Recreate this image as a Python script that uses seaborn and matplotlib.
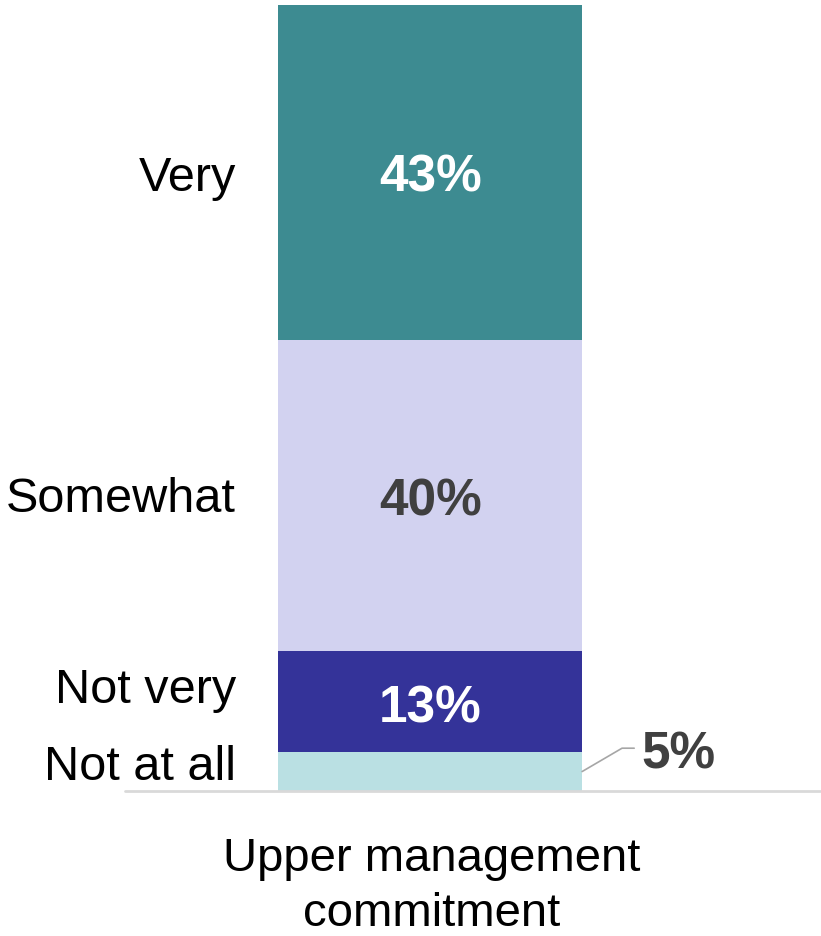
import matplotlib
matplotlib.use("Agg")
import matplotlib.pyplot as plt
import matplotlib.transforms as mtransforms
import seaborn as sns
import pandas as pd
import numpy as np

# Response categories, bottom to top
categories = ["Not at all", "Not very", "Somewhat", "Very"]
values = [5, 13, 40, 43]
colors = ["#BAE0E3", "#343399", "#D2D2F0", "#3D8B91"]
label_colors = ["#404040", "#FFFFFF", "#404040", "#FFFFFF"]
group = "Upper management\ncommitment"

sns.set_theme(style="white")
plt.rcParams["font.family"] = ["Liberation Sans", "DejaVu Sans"]

fig = plt.figure(figsize=(8.21, 9.37), dpi=100)
ax = fig.add_axes([125 / 821, 145 / 937, 695 / 821, 786 / 937])

cum = np.cumsum(values)
bottoms = cum - np.array(values)

# Stacked bar: draw cumulative totals from tallest to shortest so each layer shows
for i in reversed(range(len(values))):
    df = pd.DataFrame({"group": [group], "total": [cum[i]]})
    sns.barplot(data=df, x="group", y="total", color=colors[i], width=0.8,
                saturation=1, ax=ax, linewidth=0)

ax.set_xlim(-0.803, 1.026)
ax.set_ylim(0, cum[-1])
ax.axhline(0, color="#D9D9D9", lw=2, zorder=5, clip_on=False)


def place(x, y, s, size, up_px=0.0, **kw):
    """Put text so its cap height is centred on data y (shifted up by up_px)."""
    dy = up_px * 0.72 - 0.358 * size
    tr = mtransforms.offset_copy(ax.transData, fig=fig, y=dy, units="points")
    return ax.text(x, y, s, transform=tr, va="baseline", fontsize=size, **kw)


# Value labels inside the bar (the smallest one goes outside with a leader)
value_shift = [22.5, -2.0, -1.0, 0.0]
for i, (v, b) in enumerate(zip(values, bottoms)):
    mid = b + v / 2
    if v >= 10:
        place(0, mid, f"{v}%", 37, value_shift[i], ha="center",
              fontweight="bold", color=label_colors[i])
    else:
        ax.plot([0.4, 0.505, 0.537], [mid, mid + 3.0, mid + 3.0],
                color="#A6A6A6", lw=1.2, clip_on=False)
        place(0.556, mid, f"{v}%", 37, value_shift[i], ha="left",
              fontweight="bold", color="#404040")

# Category labels on the left
label_shift = [9.5, 16.5, 1.5, 0.0]
for cat, v, b, up in zip(categories, values, bottoms, label_shift):
    place(-0.511, b + v / 2, cat, 35, up, ha="right", color="black")

ax.set_xticks([])
ax.set_yticks([])
ax.set_xlabel("")
ax.set_ylabel("")
sns.despine(ax=ax, left=True, bottom=True)

# Group name under the bar, one line at a time
for line, base in zip(group.split("\n"), [871, 926]):
    fig.text(432 / 821, 1 - base / 937, line, ha="center", va="baseline",
             fontsize=34, color="black")

fig.savefig("out.png", dpi=100, facecolor="white")
